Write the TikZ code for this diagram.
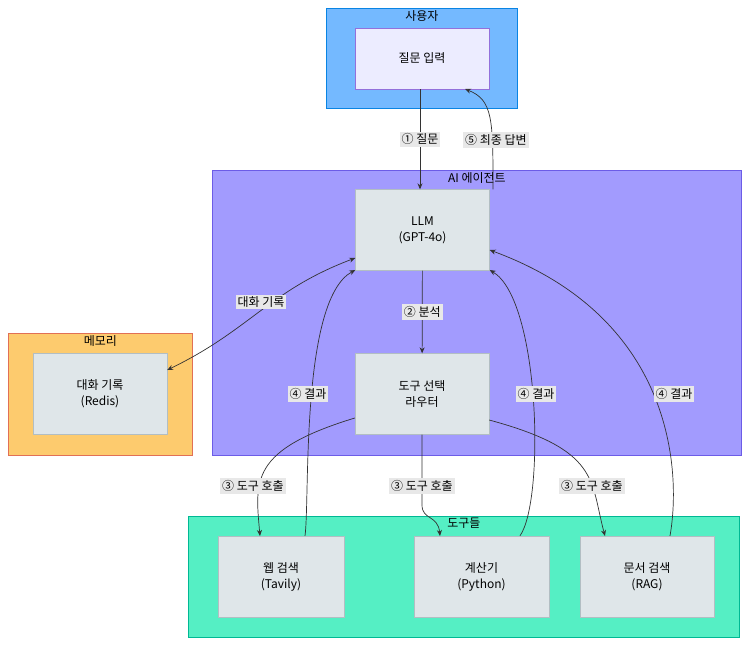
\documentclass[tikz,border=0pt]{standalone}
\usepackage{fontspec}
\setmainfont{Noto Sans CJK KR}
\usetikzlibrary{arrows.meta}
\definecolor{userfill}{HTML}{74B9FF}
\definecolor{userline}{HTML}{0984E3}
\definecolor{agentfill}{HTML}{A29BFE}
\definecolor{agentline}{HTML}{6C5CE7}
\definecolor{memfill}{HTML}{FDCB6E}
\definecolor{memline}{HTML}{E17055}
\definecolor{toolfill}{HTML}{55EFC4}
\definecolor{toolline}{HTML}{00B894}
\definecolor{boxfill}{HTML}{DFE6E9}
\definecolor{boxline}{HTML}{B2BEC3}
\definecolor{infill}{HTML}{ECECFF}
\definecolor{inline}{HTML}{9370DB}
\definecolor{lblfill}{HTML}{E8E8E8}
\tikzset{>={Stealth[length=6pt,width=5pt]}}
\begin{document}
\begin{tikzpicture}[x=1pt, y=-1pt,
    every node/.style={font=\fontsize{12}{16}\selectfont, align=center},
    cluster/.style={draw, line width=0.8pt, anchor=north west, inner sep=0pt},
    ctitle/.style={anchor=north, inner sep=2pt},
    box/.style={draw=boxline, fill=boxfill, minimum width=134pt, minimum height=81pt, inner sep=0pt},
    lbl/.style={fill=lblfill, inner sep=2pt},
    flow/.style={->, draw=black!80, line width=0.7pt}]
    \useasboundingbox (0,0) rectangle (750,646);
    % Clusters
    \node (userC) [cluster, draw=userline, fill=userfill, minimum width=191pt, minimum height=100pt] at (326,8) {};
    \node [ctitle] at (userC.north) {사용자};
    \node (agentC) [cluster, draw=agentline, fill=agentfill, minimum width=529pt, minimum height=285pt] at (212,170) {};
    \node [ctitle] at (agentC.north) {AI 에이전트};
    \node (memC) [cluster, draw=memline, fill=memfill, minimum width=184pt, minimum height=122pt] at (8,333) {};
    \node [ctitle] at (memC.north) {메모리};
    \node (toolC) [cluster, draw=toolline, fill=toolfill, minimum width=551pt, minimum height=121pt] at (188,516) {};
    \node [ctitle] at (toolC.north) {도구들};
    % Nodes
    \node (input) [box, draw=inline, fill=infill, minimum height=61pt] at (422,58.5) {질문 입력};
    \node (llm) [box] at (422.5,230) {LLM\\(GPT-4o)};
    \node (router) [box] at (422,394) {도구 선택\\라우터};
    \node (redis) [box] at (100,394) {대화 기록\\(Redis)};
    \node (web) [box, minimum width=126pt] at (281,576.5) {웹 검색\\(Tavily)};
    \node (calc) [box, minimum width=135pt] at (481.5,576.5) {계산기\\(Python)};
    \node (rag) [box] at (647,576.5) {문서 검색\\(RAG)};
    % Arrows
    \draw[flow] (input.south -| 420,0) -- node[lbl] {① 질문} (llm.north -| 420,0);
    \draw[flow] (llm.north -| 493,0) .. controls (493,120) and (493,100) .. (465,89);
    \draw[flow] (llm) -- node[lbl] {② 분석} (router);
    \draw[flow, <->] (llm.south west |- 0,258) .. controls (270,290) and (250,330) .. (redis.east |- 0,370);
    \draw[flow] (router.west |- 0,418) .. controls (250,450) and (255,480) .. (260,536);
    \draw[flow] (router.south) -- (422,505) .. controls (422,520) and (438,515) .. (440,536);
    \draw[flow] (router.east |- 0,420) .. controls (600,450) and (590,480) .. (605,536);
    \draw[flow] (web.north -| 305,0) .. controls (310,500) and (300,300) .. (llm.south west |- 0,270);
    \draw[flow] (calc.north -| 520,0) .. controls (545,500) and (540,300) .. (llm.south east |- 0,270);
    \draw[flow] (rag.north -| 670,0) .. controls (680,480) and (680,320) .. (llm.east |- 0,250);
    % Edge labels
    \node (lAnswer) [lbl] at (496,140) {⑤ 최종 답변};
    \node (lMem) [lbl] at (261,302) {대화 기록};
    \node (lCallW) [lbl] at (253,486) {③ 도구 호출};
    \node (lCallC) [lbl] at (422,486) {③ 도구 호출};
    \node (lCallR) [lbl] at (592,486) {③ 도구 호출};
    \node (lResW) [lbl] at (308,394) {④ 결과};
    \node (lResC) [lbl] at (536,394) {④ 결과};
    \node (lResR) [lbl] at (674,394) {④ 결과};
\end{tikzpicture}
\end{document}
